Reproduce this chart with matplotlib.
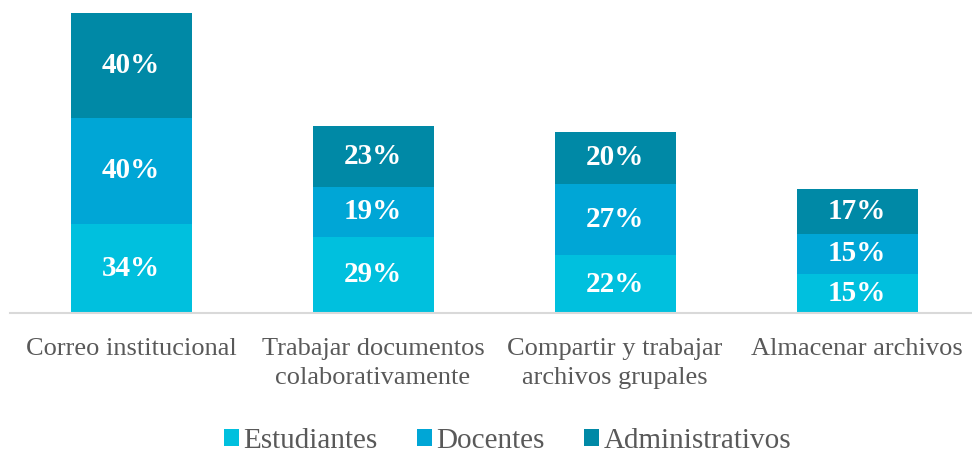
import matplotlib
matplotlib.use("Agg")
import matplotlib.pyplot as plt
from matplotlib.patches import Patch

categories = ["Correo institucional", "Trabajar documentos\ncolaborativamente",
              "Compartir y trabajar\narchivos grupales", "Almacenar archivos"]
series_names = ["Estudiantes", "Docentes", "Administrativos"]
estudiantes = [34, 29, 22, 15]
docentes = [40, 19, 27, 15]
administrativos = [40, 23, 20, 17]
colors = ["#00C0DE", "#00A6D6", "#0089A6"]

plt.rcParams['font.family'] = ['Liberation Serif', 'DejaVu Serif']

fig = plt.figure(figsize=(9.72, 4.55), dpi=100)
W, H = 972, 455
ax = fig.add_axes([10 / W, 1 - 313 / H, 968 / W, 313 / H])

x = list(range(len(categories)))
bottom = [0] * len(categories)
for vals, col in zip([estudiantes, docentes, administrativos], colors):
    ax.bar(x, vals, width=0.5, bottom=bottom, color=col, edgecolor="none")
    for xi, v, b in zip(x, vals, bottom):
        ax.text(xi, b + v / 2, f"{v}%", ha="center", va="center",
                color="white", fontsize=21, fontweight="bold")
    bottom = [b + v for b, v in zip(bottom, vals)]

ax.set_xlim(-0.5, 3.5)
ax.set_ylim(0, 119)
for s in ["top", "right", "left"]:
    ax.spines[s].set_visible(False)
ax.spines["bottom"].set_color("#D9D9D9")
ax.spines["bottom"].set_linewidth(1.5)
ax.set_yticks([])
ax.set_xticks(x)
ax.set_xticklabels(categories, fontsize=19, color="#595959", linespacing=1.42)
ax.tick_params(axis="x", length=0, pad=18)

handles = [Patch(facecolor=c, edgecolor="none") for c in colors]
fig.legend(handles, series_names, loc="center", bbox_to_anchor=(0.522, 1 - 441 / H),
           ncol=3, frameon=False, fontsize=21, labelcolor="#595959",
           handlelength=0.52, handleheight=0.52, handletextpad=0.15, columnspacing=1.35)

fig.savefig("out.png", dpi=100)
